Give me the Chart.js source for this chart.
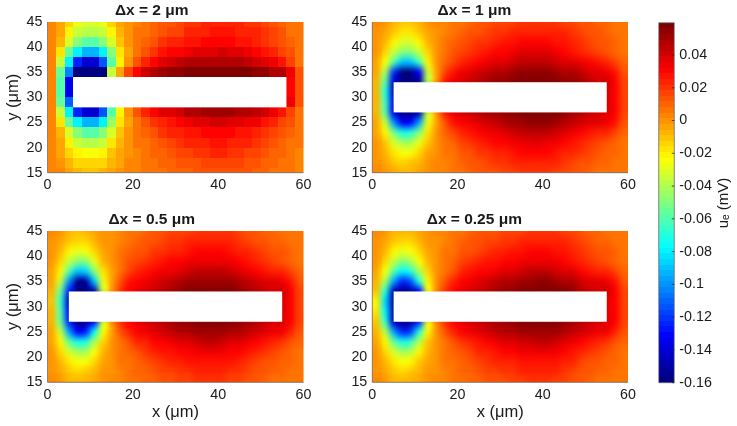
<!DOCTYPE html>
<html><head><meta charset="utf-8">
<style>html,body{margin:0;padding:0;background:#fff}canvas{position:absolute;display:block}</style>
<script src="https://cdn.jsdelivr.net/npm/chart.js@4"></script>
</head><body>
<canvas id="c1" width="320" height="200" style="left:0;top:0"></canvas>
<canvas id="c2" width="320" height="200" style="left:320px;top:0"></canvas>
<canvas id="c3" width="320" height="221" style="left:0;top:205px"></canvas>
<canvas id="c4" width="320" height="221" style="left:320px;top:205px"></canvas>
<canvas id="cb" width="97" height="426" style="left:640px;top:0"></canvas>
<script>
// Values, in units of 0.001 mV. Rows run top (y=45) to bottom (y=15), columns x=1..59.
const xNodes = [1,3,5,7,9,11,13,15,17,19,21,23,25,27,29,31,33,35,37,39,41,43,45,47,49,51,53,55,57,59];
const yNodes = [45,43,41,39,37,35,33,31,29,27,25,23,21,19,17,15];
const _ = null;
const titles = ['Δx = 2 μm','Δx = 1 μm','Δx = 0.5 μm','Δx = 0.25 μm'];
const holes = [[6,56,28,34],[5,55,27,33],[5,55,27,33],[5,55,27,33]];
const xTicks = [0,20,40,60];
const yTicks = [15,20,25,30,35,40,45];
const barTicks = [-0.16,-0.14,-0.12,-0.1,-0.08,-0.06,-0.04,-0.02,0,0.02,0.04];
const barLevels = [-158,-155,-151,-148,-144,-141,-138,-134,-131,-127,-124,-120,-117,-114,-110,-107,-103,-100,-96,-93,-90,-86,-83,-79,-76,-72,-69,-66,-62,-59,-55,-52,-48,-45,-42,-38,-35,-31,-28,-24,-21,-18,-14,-11,-7,-4,0,3,7,10,13,17,20,24,27,31,34,37,41,44,48,51,55,58];

const panel2um = [
[3,-3,-15,-28,-32,-32,-28,-15,-4,0,4,7,9,12,14,16,19,21,22,23,23,23,22,21,19,16,13,11,8,5],
[3,-5,-20,-34,-37,-37,-33,-20,-7,0,5,8,11,14,16,18,22,24,25,26,26,26,25,24,22,19,16,13,8,5],
[3,-8,-30,-50,-58,-58,-48,-30,-10,-1,6,10,14,19,22,24,26,28,30,30,30,30,28,27,24,20,16,13,10,6],
[3,-18,-55,-78,-92,-92,-78,-48,-18,-3,6,13,20,26,29,32,35,36,38,38,40,37,37,34,32,27,22,18,12,6],
[3,-33,-78,-125,-140,-140,-115,-60,-22,-2,12,24,30,37,40,43,47,47,48,48,48,47,47,45,42,38,33,27,17,7],
[3,-55,-105,-160,-160,-160,-160,-35,-5,18,32,42,48,50,53,56,58,59,59,59,59,58,58,57,56,54,48,47,35,13],
[3,-58,-135,_,_,_,_,_,_,_,_,_,_,_,_,_,_,_,_,_,_,_,_,_,_,_,_,_,31,14],
[3,-60,-135,_,_,_,_,_,_,_,_,_,_,_,_,_,_,_,_,_,_,_,_,_,_,_,_,_,32,14],
[3,-55,-110,_,_,_,_,_,_,_,_,_,_,_,_,_,_,_,_,_,_,_,_,_,_,_,_,_,34,14],
[3,-33,-78,-125,-142,-142,-115,-60,-22,0,12,24,30,36,39,42,46,49,51,52,52,50,49,47,44,40,34,27,17,8],
[3,-18,-55,-78,-92,-92,-78,-45,-18,-3,6,13,19,25,28,32,35,37,39,40,41,39,38,35,33,28,23,18,12,6],
[3,-8,-30,-50,-58,-58,-48,-30,-10,-1,6,10,14,19,22,24,26,28,29,30,30,29,28,26,24,20,16,13,10,6],
[3,-4,-20,-35,-38,-38,-33,-18,-6,0,5,8,11,14,16,19,22,24,25,26,26,25,24,22,19,16,13,11,8,5],
[3,-3,-14,-22,-24,-24,-20,-10,-5,1,4,7,9,11,13,16,18,20,21,22,22,21,20,18,16,14,11,9,7,4],
[3,0,-8,-13,-15,-15,-13,-8,-4,2,4,6,8,9,11,13,14,15,17,18,18,17,16,14,13,11,9,7,5,4],
[3,2,-3,-7,-10,-10,-8,-4,-1,3,4,5,6,8,9,10,11,12,14,15,15,14,13,12,11,9,7,6,5,4]
];
const panel1um = [
[2,-2,-6,-9,-9,-6,-1,2,4,6,8,10,12,14,16,17,18,19,20,20,20,19,18,16,14,12,10,9,7,5],
[1,-4,-11,-17,-17,-12,-4,1,4,7,10,13,15,17,19,21,22,24,25,25,25,24,22,19,16,14,12,10,8,6],
[0,-8,-20,-30,-30,-22,-8,0,5,9,12,16,19,21,24,26,28,29,30,30,30,28,26,23,20,17,15,13,9,6],
[-1,-14,-34,-50,-50,-36,-14,-1,6,12,17,21,25,28,30,32,34,36,37,37,36,34,32,28,25,21,18,15,11,7],
[-3,-23,-60,-88,-88,-62,-22,-2,9,17,23,27,31,34,36,39,41,44,45,45,44,41,39,36,33,29,26,23,16,9],
[-5,-40,-120,-158,-158,-130,-35,-3,17,28,33,36,40,43,46,49,51,53,54,54,53,51,49,46,43,39,37,35,27,14],
[-7,-60,-140,-160,-160,-160,-40,-2,28,38,41,44,48,51,53,55,57,59,60,60,60,59,56,53,50,46,42,40,30,16],
[-8,-70,-145,_,_,_,_,_,_,_,_,_,_,_,_,_,_,_,_,_,_,_,_,_,_,_,_,40,32,17],
[-7,-62,-135,_,_,_,_,_,_,_,_,_,_,_,_,_,_,_,_,_,_,_,_,_,_,_,_,40,30,16],
[-7,-58,-135,-160,-160,-150,-35,-2,26,36,40,43,47,50,52,54,56,58,60,60,60,58,55,52,49,45,41,39,30,16],
[-5,-36,-100,-135,-130,-95,-28,-3,15,26,32,35,39,42,45,48,50,52,53,54,53,51,48,45,42,38,36,33,26,13],
[-3,-20,-52,-72,-70,-50,-16,-2,9,16,22,26,30,33,35,38,40,43,44,44,43,40,38,35,32,28,25,22,16,9],
[-1,-12,-30,-42,-40,-28,-10,0,6,11,16,20,24,27,29,31,33,35,36,36,35,33,31,27,24,20,17,14,10,7],
[0,-7,-17,-24,-23,-15,-5,1,5,8,12,15,19,21,23,25,27,29,29,29,29,27,25,22,19,16,14,11,9,6],
[1,-3,-9,-13,-12,-8,-2,2,4,6,9,12,15,17,19,20,22,24,24,24,24,22,20,17,15,13,11,9,7,6],
[2,-1,-5,-7,-7,-4,0,2,4,5,7,9,12,14,15,17,18,19,20,20,19,18,16,14,12,10,8,7,6,5]
];
const panelHalfUm = [
[2,-2,-6,-9,-8,-4,0,1,4,6,8,10,12,14,16,17,18,19,20,20,20,19,17,15,13,11,9,8,7,5],
[1,-4,-11,-15,-14,-8,-1,0,4,7,10,12,15,17,19,21,22,24,24,24,24,23,21,18,15,13,11,10,8,6],
[0,-8,-20,-27,-25,-15,-4,-1,5,9,12,15,19,21,23,25,27,29,29,29,29,27,25,22,19,16,14,12,9,6],
[-1,-13,-35,-50,-48,-28,-8,-2,6,12,16,20,24,27,29,31,33,35,35,35,35,33,31,27,24,20,17,15,11,7],
[-3,-22,-60,-90,-85,-50,-18,-3,8,16,23,26,30,33,35,38,40,43,43,43,43,40,38,35,32,28,25,22,16,9],
[-5,-35,-100,-155,-150,-90,-28,-3,14,26,32,35,38,42,45,48,50,52,52,52,52,50,48,45,42,38,36,35,26,14],
[-8,-55,-125,-160,-160,-150,-35,-2,20,31,38,42,45,49,52,54,57,60,60,60,60,58,55,52,48,44,41,40,30,16],
[-10,-65,-145,_,_,_,_,_,_,_,_,_,_,_,_,_,_,_,_,_,_,_,_,_,_,_,_,40,32,17],
[-8,-58,-130,_,_,_,_,_,_,_,_,_,_,_,_,_,_,_,_,_,_,_,_,_,_,_,_,40,30,16],
[-8,-55,-125,-160,-155,-130,-35,0,20,30,37,41,44,48,51,53,56,59,60,60,59,57,54,51,47,43,40,39,30,16],
[-5,-35,-95,-130,-125,-75,-25,-3,13,25,31,34,37,41,44,47,49,51,52,52,51,49,47,44,41,37,35,33,25,13],
[-3,-22,-55,-72,-68,-42,-15,-2,8,15,22,25,29,32,34,37,39,42,43,43,42,39,37,34,31,27,24,21,15,9],
[-1,-13,-32,-43,-40,-24,-8,0,6,11,15,19,23,26,28,30,32,34,35,35,34,32,30,26,23,19,16,14,10,7],
[0,-8,-18,-25,-23,-13,-4,1,5,8,11,14,18,20,22,24,26,28,28,28,28,26,24,21,18,15,13,11,9,6],
[1,-4,-10,-13,-12,-7,-1,1,4,6,9,11,14,16,18,20,21,23,23,23,23,21,20,17,14,12,10,9,7,6],
[2,-2,-6,-8,-7,-4,0,2,4,5,7,9,11,13,15,16,17,19,19,19,19,18,16,14,12,10,8,7,6,5]
];
const panelQuarterUm = [
[2,-2,-6,-8,-7,-3,0,2,4,6,8,10,12,14,15,16,17,18,19,20,20,20,18,16,14,11,9,8,7,5],
[1,-4,-11,-15,-13,-7,-1,1,4,7,9,12,14,16,18,20,21,23,24,24,24,24,22,19,16,13,11,10,8,6],
[0,-8,-20,-27,-24,-13,-3,0,5,8,12,15,18,20,22,24,26,28,29,29,29,28,26,23,20,16,14,12,9,6],
[-1,-14,-35,-47,-42,-24,-6,-1,6,11,16,19,23,26,28,30,32,34,35,35,35,34,32,28,25,20,17,15,11,7],
[-3,-23,-60,-78,-70,-40,-13,-1,8,15,22,26,29,32,34,37,39,41,43,43,43,41,39,36,32,28,25,22,16,9],
[-6,-40,-95,-125,-115,-70,-20,0,14,25,31,35,38,41,44,47,49,51,52,53,53,52,49,46,42,38,36,35,26,14],
[-9,-70,-145,-160,-155,-130,-28,2,20,30,37,41,45,48,51,53,56,58,60,60,60,60,57,53,49,45,41,40,30,16],
[-20,-85,-155,_,_,_,_,_,_,_,_,_,_,_,_,_,_,_,_,_,_,_,_,_,_,_,_,39,32,17],
[-16,-80,-150,_,_,_,_,_,_,_,_,_,_,_,_,_,_,_,_,_,_,_,_,_,_,_,_,39,30,16],
[-9,-65,-140,-160,-155,-125,-28,2,19,29,36,40,44,47,50,52,55,57,59,60,60,59,56,52,48,44,40,39,30,16],
[-6,-38,-95,-125,-118,-70,-20,0,13,24,30,34,37,40,43,46,48,50,52,52,52,50,48,45,41,37,35,33,25,13],
[-3,-22,-55,-72,-66,-38,-12,-1,8,14,21,25,28,31,33,36,38,40,42,43,43,40,38,35,31,27,24,21,15,9],
[-1,-13,-32,-43,-38,-22,-6,0,6,10,15,18,22,25,27,29,31,33,34,35,35,33,31,27,23,19,16,14,10,7],
[0,-8,-18,-25,-22,-12,-3,1,5,8,11,14,17,20,22,24,25,27,28,28,28,27,25,22,18,15,13,11,9,6],
[1,-4,-10,-13,-11,-6,-1,1,4,6,9,11,13,16,18,19,20,22,23,23,23,22,20,17,14,12,10,9,7,6],
[2,-2,-6,-8,-7,-3,0,2,4,5,7,9,11,13,14,15,16,18,19,19,19,18,16,14,12,10,8,7,6,5]
];

const V_MIN = -160, V_MAX = 59.7, LEVELS = 64;
const FONT = '"Liberation Sans", Arial, sans-serif';
const INK = '#1a1a1a';

function jet(v){
  let t = (v - V_MIN) / (V_MAX - V_MIN);
  t = Math.max(0, Math.min(LEVELS - 1, Math.floor(t * LEVELS))) / (LEVELS - 1);
  const c = a => Math.round(255 * Math.max(0, Math.min(1, 1.5 - Math.abs(4 * t - a))));
  return [c(3), c(2), c(1)];
}

// Paints the grid held by dataset 0 onto the chart area, placed by the chart's own scales.
const heatPlugin = {
  id: 'heat',
  beforeDatasetsDraw(chart, args, o) {
    const pts = chart.data.datasets[0].data, cols = o.cols, rows = o.rows;
    const off = document.createElement('canvas');
    off.width = cols; off.height = rows;
    const octx = off.getContext('2d'), img = octx.createImageData(cols, rows);
    pts.forEach(p => {
      const i = 4 * (p.row * cols + p.col), [r, g, b] = jet(p.v);
      img.data[i] = r; img.data[i + 1] = g; img.data[i + 2] = b; img.data[i + 3] = 255;
    });
    octx.putImageData(img, 0, 0);
    const { x, y } = chart.scales, a = chart.chartArea, ctx = chart.ctx;
    const x0 = x.getPixelForValue(o.ext[0]), x1 = x.getPixelForValue(o.ext[1]);
    const y0 = y.getPixelForValue(o.ext[3]), y1 = y.getPixelForValue(o.ext[2]);
    ctx.save();
    ctx.beginPath(); ctx.rect(a.left, a.top, a.right - a.left, a.bottom - a.top); ctx.clip();
    ctx.imageSmoothingEnabled = !!o.smooth;
    ctx.imageSmoothingQuality = 'high';
    ctx.drawImage(off, x0, y0, x1 - x0, y1 - y0);
    if (o.hole) {
      const [hx0, hx1, hy0, hy1] = o.hole;
      const l = x.getPixelForValue(hx0), r = x.getPixelForValue(hx1);
      const t = y.getPixelForValue(hy1), b = y.getPixelForValue(hy0);
      ctx.fillStyle = '#fff';
      ctx.fillRect(l, t, r - l, b - t);
    }
    ctx.restore();
  },
  afterDraw(chart, args, o) {
    const ctx = chart.ctx, a = chart.chartArea;
    ctx.save();
    ctx.strokeStyle = '#666'; ctx.lineWidth = 0.8;
    ctx.beginPath();
    if (o.box) { ctx.rect(a.left, a.top, a.right - a.left, a.bottom - a.top); }
    else { ctx.moveTo(a.left, a.top); ctx.lineTo(a.left, a.bottom); ctx.lineTo(a.right, a.bottom); }
    ctx.stroke();
    if (o.box) {
      ctx.strokeStyle = '#222'; ctx.beginPath();
      chart.scales.y.ticks.forEach(t => {
        const py = chart.scales.y.getPixelForValue(t.value);
        ctx.moveTo(a.right - 2.5, py); ctx.lineTo(a.right, py);
      });
      ctx.stroke();
    }
    if (o.sideTitle) {
      ctx.translate(83.5, 203);
      ctx.rotate(-Math.PI / 2);
      ctx.fillStyle = INK; ctx.font = '15px ' + FONT;
      ctx.textAlign = 'center'; ctx.textBaseline = 'middle';
      ctx.fillText(o.sideTitle, 0, 0);
    }
    ctx.restore();
  }
};

function gridPoints(rows) {
  const pts = [];
  rows.forEach((r, ri) => r.forEach((v, ci) => {
    if (v !== null) pts.push({ x: xNodes[ci], y: yNodes[ri], v, row: ri, col: ci });
  }));
  return pts;
}

function panel(id, rows, idx, opt) {
  const tickFont = { family: FONT, size: 14.3 };
  const noGrid = { display: false, drawTicks: false, tickLength: 0 };
  new Chart(document.getElementById(id), {
    type: 'scatter',
    data: { datasets: [{ label: titles[idx], data: gridPoints(rows), pointRadius: 0, showLine: false }] },
    plugins: [heatPlugin],
    options: {
      responsive: false, animation: false, events: [],
      layout: { padding: { top: opt.padTop, right: opt.padRight, left: 0, bottom: 0 } },
      plugins: {
        legend: { display: false }, tooltip: { enabled: false },
        title: { display: true, text: titles[idx], color: INK, font: { family: FONT, size: 15.5, weight: 'bold', lineHeight: 1.08 }, padding: { top: 2.5, bottom: 2.5 } },
        heat: { cols: xNodes.length, rows: yNodes.length, ext: [0, 60, 14, 46], smooth: opt.smooth, hole: holes[idx] }
      },
      scales: {
        x: {
          type: 'linear', min: 0, max: 60,
          grid: noGrid, border: { display: false },
          afterBuildTicks: s => { s.ticks = xTicks.map(value => ({ value })); },
          afterFit: s => { s.height = opt.xHeight; },
          ticks: { color: INK, font: tickFont, padding: 4, maxRotation: 0, autoSkip: false },
          title: { display: opt.xTitle, text: 'x (μm)', color: INK, font: { family: FONT, size: 16.5, lineHeight: 1.2 }, padding: 4 }
        },
        y: {
          type: 'linear', min: 15, max: 45,
          grid: noGrid, border: { display: false },
          afterBuildTicks: s => { s.ticks = yTicks.map(value => ({ value })); },
          afterFit: s => { s.width = opt.yWidth; },
          ticks: { color: INK, font: tickFont, padding: 5, autoSkip: false },
          title: { display: opt.yTitle, text: 'y (μm)', color: INK, font: { family: FONT, size: 16.5, lineHeight: 1.2 }, padding: 4 }
        }
      }
    }
  });
}

panel('c1', panel2um, 0, { smooth: false, padTop: 0.2, padRight: 16.5, xHeight: 27.3, yWidth: 47.5, xTitle: false, yTitle: true });
panel('c2', panel1um, 1, { smooth: true, padTop: 0.2, padRight: 11.3, xHeight: 27.3, yWidth: 52.3, xTitle: false, yTitle: false });
panel('c3', panelHalfUm, 2, { smooth: true, padTop: 4.2, padRight: 16.5, xHeight: 43.7, yWidth: 47.5, xTitle: true, yTitle: true });
panel('c4', panelQuarterUm, 3, { smooth: true, padTop: 4.2, padRight: 11.3, xHeight: 43.7, yWidth: 52.3, xTitle: true, yTitle: false });

new Chart(document.getElementById('cb'), {
  type: 'scatter',
  data: { datasets: [{ label: 'ue (mV)', pointRadius: 0, showLine: false,
    data: barLevels.slice().reverse().map((v, i) => ({ x: 0.5, y: v / 1000, v, row: i, col: 0 })) }] },
  plugins: [heatPlugin],
  options: {
    responsive: false, animation: false, events: [],
    layout: { padding: { top: 22.7, bottom: 43.3, left: 18.7, right: 0 } },
    plugins: {
      legend: { display: false }, tooltip: { enabled: false }, title: { display: false },
      heat: { cols: 1, rows: barLevels.length, ext: [0, 1, -0.16, 0.0597], smooth: false, box: true, sideTitle: 'uₑ (mV)' }
    },
    scales: {
      x: { type: 'linear', min: 0, max: 1, display: false, afterFit: s => { s.height = 0; } },
      y: {
        type: 'linear', position: 'right', min: -0.16, max: 0.0597,
        grid: { display: false, drawTicks: false, tickLength: 0 }, border: { display: false },
        afterBuildTicks: s => { s.ticks = barTicks.map(value => ({ value })); },
        afterFit: s => { s.width = 62.7; },
        ticks: { color: INK, font: { family: FONT, size: 14.3 }, padding: 5, autoSkip: false, callback: v => String(Number(v.toFixed(2))) }
      }
    }
  }
});
</script>
</body></html>
